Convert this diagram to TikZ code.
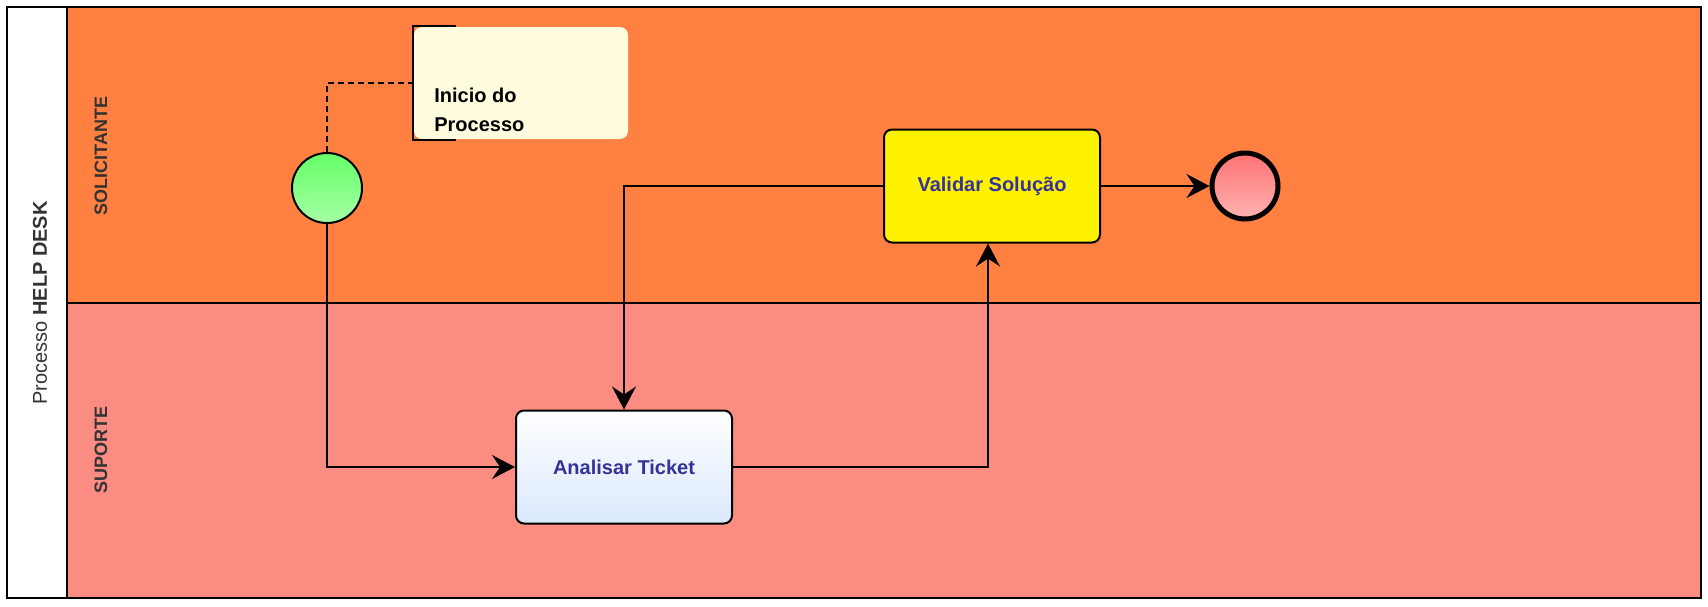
\documentclass[tikz,border=0pt]{standalone}
\usepackage{fontspec}
\setmainfont{Liberation Sans}
\usetikzlibrary{arrows.meta}
\definecolor{laranja}{RGB}{255,128,64}
\definecolor{salmao}{RGB}{250,140,130}
\definecolor{azultxt}{RGB}{51,51,153}
\definecolor{azulclaro}{RGB}{218,232,252}
\definecolor{notafill}{RGB}{255,253,222}
\begin{document}
\begin{tikzpicture}[x=1pt, y=-1pt, line width=2pt,
	lane/.style={draw=none, text=black!80, font=\fontsize{18}{22}\selectfont\bfseries, rotate=90},
	task/.style={rectangle, draw, rounded corners=8pt, minimum width=216pt, minimum height=113pt, text=azultxt, font=\fontsize{20}{24}\selectfont\bfseries},
	evento/.style={circle, draw, minimum size=70pt, inner sep=0pt},
	flow/.style={-{Stealth[length=23pt, width=24pt, inset=8pt]}}]

	\useasboundingbox (0,0) rectangle (1708,606);

	% raias
	\fill[laranja] (67,7) rectangle (1701,303);
	\fill[salmao] (67,303) rectangle (1701,598);
	\draw (7,7) rectangle (1701,598);
	\draw (67,7) -- (67,598);
	\draw (67,303) -- (1701,303);

	\node[lane, font=\fontsize{20}{24}\selectfont] (pool) at (40,303) {Processo \textbf{HELP DESK}};
	\node[lane] (solic) at (101,156) {SOLICITANTE};
	\node[lane] (sup) at (101,450) {SUPORTE};

	% eventos e tarefas
	\node[evento, top color=green!60, bottom color=green!35!white] (ini) at (327,188) {};
	\node[evento, line width=5pt, minimum size=66pt, top color=red!55!white, bottom color=red!30!white] (fim) at (1245,186) {};
	\node[task, top color=white, bottom color=azulclaro] (analisar) at (624,467) {Analisar Ticket};
	\node[task, fill=yellow] (validar) at (992,186) {Validar Solução};

	% anotacao
	\node[rectangle, fill=notafill, rounded corners=8pt, minimum width=214pt, minimum height=112pt] (nota) at (521,83) {};
	\draw (nota.north west) ++(43,0) -- (nota.north west) -- (nota.south west) -- ++(43,0);
	\node[anchor=west, align=left, text=black, font=\fontsize{20}{29}\selectfont\bfseries] (notatxt) at (430,110) {Inicio do\\Processo};
	\draw[dash pattern=on 6pt off 4pt, line width=1.5pt] (ini.north) |- (nota.west);

	% fluxos
	\draw[flow] (ini.south) |- (analisar.west);
	\draw[flow] (analisar.east) -| ([xshift=-4pt]validar.south);
	\draw[flow] (validar.west) -| (analisar.north);
	\draw[flow] (validar.east) -- (fim.west);
\end{tikzpicture}
\end{document}
